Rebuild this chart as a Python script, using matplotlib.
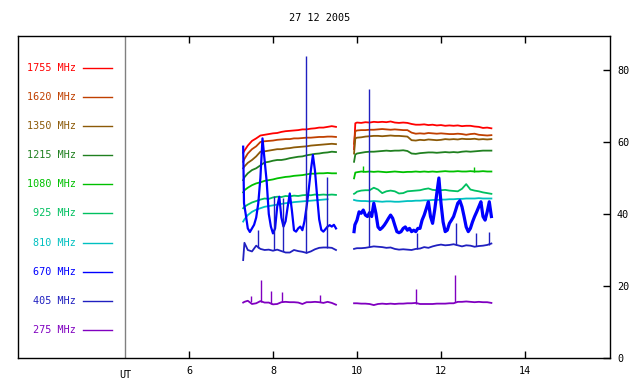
import numpy as np
import matplotlib
matplotlib.use("Agg")
import matplotlib.pyplot as plt

TITLE = "27 12 2005"
FREQS = [1755, 1620, 1350, 1215, 1080, 925, 810, 670, 405, 275]
COLORS = ["#ff0000", "#c04000", "#8c5a08", "#208020", "#00c000",
          "#00c060", "#00c0c0", "#0000ff", "#2020c0", "#8000c0"]

# time axis (UT hours) for most channels
T_LEFT = [7.29, 7.32, 7.4, 7.5, 7.6, 7.7, 7.8, 7.9, 8.0, 8.1, 8.2, 8.3, 8.4, 8.5,
          8.6, 8.7, 8.8, 8.9, 9.0, 9.1, 9.2, 9.3, 9.4, 9.5]
T_RIGHT = [9.93, 9.96, 10.0, 10.1, 10.2, 10.3, 10.4, 10.5, 10.6, 10.7, 10.8, 10.9,
           11.0, 11.1, 11.2, 11.3, 11.4, 11.5, 11.6, 11.7, 11.8, 11.9, 12.0, 12.1,
           12.2, 12.3, 12.4, 12.5, 12.6, 12.7, 12.8, 12.9, 13.0, 13.1, 13.2]

F1755_L = [57.0, 57.6, 59.0, 60.3, 61.0, 61.8, 62.0, 62.2, 62.4, 62.5, 62.8, 63.0, 63.1,
           63.2, 63.3, 63.5, 63.5, 63.7, 63.8, 64.0, 64.0, 64.2, 64.4, 64.2]
F1755_R = [58.0, 65.2, 65.4, 65.3, 65.5, 65.4, 65.6, 65.5, 65.6, 65.5, 65.7, 65.4, 65.3,
           65.4, 65.3, 65.0, 64.8, 64.8, 64.9, 64.7, 64.8, 64.6, 64.7, 64.5, 64.6, 64.5,
           64.6, 64.4, 64.5, 64.5, 64.3, 64.2, 63.9, 64.0, 63.8]
F1620_L = [54.5, 55.3, 56.8, 58.0, 58.8, 60.0, 60.2, 60.3, 60.4, 60.6, 60.7, 60.8, 60.8,
           61.0, 61.0, 61.1, 61.2, 61.2, 61.3, 61.4, 61.4, 61.5, 61.5, 61.4]
F1620_R = [59.5, 63.0, 63.2, 63.3, 63.3, 63.4, 63.4, 63.5, 63.6, 63.5, 63.4, 63.5, 63.4,
           63.3, 63.3, 62.6, 62.3, 62.4, 62.3, 62.5, 62.4, 62.3, 62.4, 62.3, 62.2, 62.2,
           62.3, 62.2, 62.0, 62.2, 62.3, 62.0, 61.9, 61.8, 61.9]
F1350_L = [52.7, 53.2, 54.2, 55.0, 56.0, 57.3, 57.4, 57.6, 57.8, 58.0, 58.0, 58.2, 58.3,
           58.5, 58.6, 58.7, 58.8, 59.0, 59.1, 59.2, 59.3, 59.4, 59.5, 59.4]
F1350_R = [56.8, 61.0, 61.2, 61.3, 61.5, 61.6, 61.7, 61.7, 61.6, 61.7, 61.8, 61.7, 61.7,
           61.6, 61.5, 60.5, 60.4, 60.6, 60.5, 60.7, 60.6, 60.5, 60.6, 60.8, 60.7, 60.8,
           60.7, 60.9, 60.8, 60.8, 60.9, 60.7, 60.8, 60.7, 60.8]
F1215_L = [49.4, 50.2, 51.3, 52.2, 52.7, 53.5, 54.3, 54.5, 54.8, 55.0, 55.0, 55.2, 55.5,
           55.7, 55.9, 56.0, 56.3, 56.5, 56.7, 56.8, 57.0, 57.1, 57.3, 57.2]
F1215_R = [54.5, 56.5, 56.8, 57.0, 57.2, 57.3, 57.3, 57.4, 57.5, 57.6, 57.5, 57.6, 57.6,
           57.7, 57.5, 56.8, 56.7, 56.9, 57.0, 57.1, 57.1, 57.0, 57.1, 57.2, 57.1, 57.2,
           57.1, 57.3, 57.4, 57.3, 57.4, 57.5, 57.6, 57.6, 57.6]
F1080_L = [46.0, 46.6, 47.3, 48.0, 48.5, 48.8, 49.2, 49.4, 49.6, 49.9, 50.1, 50.3, 50.4,
           50.6, 50.7, 50.8, 51.0, 51.2, 51.2, 51.3, 51.3, 51.4, 51.3, 51.3]
F1080_R = [49.9, 51.5, 51.6, 51.8, 51.7, 51.8, 51.7, 51.8, 51.7, 51.6, 51.7, 51.8, 51.7,
           51.6, 51.7, 51.7, 51.8, 51.7, 51.8, 51.7, 51.8, 51.7, 51.8, 51.9, 51.8, 51.8,
           51.9, 51.8, 51.8, 51.9, 51.8, 51.8, 51.9, 51.8, 51.8]
F925_L = [41.6, 42.0, 42.6, 43.2, 43.6, 44.0, 44.3, 44.2, 44.6, 44.8, 44.7, 45.0, 44.9,
          45.1, 45.0, 45.2, 45.3, 45.2, 45.4, 45.3, 45.4, 45.3, 45.4, 45.3]
F925_R = [45.6, 45.8, 46.2, 46.5, 46.6, 46.6, 47.3, 46.8, 45.8, 46.3, 46.5, 46.3, 45.7,
          45.8, 46.3, 46.4, 46.5, 46.6, 46.9, 47.1, 46.7, 46.6, 46.6, 46.7, 46.5, 46.4,
          46.3, 47.0, 48.3, 46.8, 46.5, 46.3, 46.0, 45.8, 45.6]
F810_L = [37.9, 38.5, 39.7, 40.6, 41.2, 41.6, 42.0, 42.2, 42.4, 42.6, 42.8, 43.0, 43.1,
          43.3, 43.4, 43.5, 43.6, 43.7, 43.8, 43.9, 44.0, 44.1, np.nan, np.nan]
F810_R = [43.9, 43.8, 43.7, 43.6, 43.6, 43.5, 43.6, 43.5, 43.4, 43.5, 43.5, 43.4, 43.4,
          43.5, 43.6, 43.6, 43.7, 43.7, 43.8, 43.8, 43.9, 43.9, 44.0, 44.0, 44.1, 44.1,
          44.2, 44.2, 44.3, 44.3, 44.3, 44.4, 44.3, 44.3, 44.3]
F405_L = [27.2, 32.0, 30.0, 29.6, 31.2, 30.3, 30.0, 30.1, 29.8, 30.1, 29.7, 29.3, 29.3,
          30.0, 29.7, 29.5, 29.2, 29.6, 30.2, 30.6, 30.7, 30.7, 30.6, 30.0]
F405_R = [30.3, 30.4, 30.5, 30.5, 30.6, 30.8, 31.0, 30.9, 30.8, 30.6, 30.7, 30.3, 30.1,
          30.2, 30.1, 30.0, 30.3, 30.4, 30.8, 30.6, 31.0, 31.3, 31.5, 31.3, 31.4, 31.6,
          31.3, 31.0, 31.3, 31.2, 30.9, 31.1, 31.2, 31.4, 31.8]
F275_L = [15.4, 15.6, 15.9, 15.0, 15.2, 15.8, 15.4, 15.4, 14.9, 15.0, 15.5, 15.6, 15.5,
          15.5, 15.4, 15.0, 15.5, 15.5, 15.6, 15.5, 15.3, 15.6, 15.3, 14.8]
F275_R = [15.2, 15.2, 15.2, 15.1, 15.1, 15.0, 14.7, 15.0, 15.1, 15.0, 15.1, 15.0, 15.1,
          15.1, 15.2, 15.2, 15.3, 15.0, 15.0, 15.0, 15.0, 15.1, 15.1, 15.1, 15.2, 15.2,
          15.6, 15.6, 15.7, 15.6, 15.5, 15.6, 15.5, 15.5, 15.3]

# 670 MHz is sampled more finely
T670_L = [7.29, 7.31, 7.35, 7.40, 7.45, 7.50, 7.55, 7.60, 7.65, 7.70, 7.75, 7.80, 7.85,
          7.90, 7.95, 8.00, 8.05, 8.10, 8.15, 8.20, 8.25, 8.30, 8.35, 8.40, 8.45, 8.50,
          8.55, 8.60, 8.65, 8.70, 8.75, 8.80, 8.85, 8.90, 8.95, 9.00, 9.05, 9.10, 9.15,
          9.20, 9.25, 9.30, 9.35, 9.40, 9.45, 9.50]
F670_L = [58.7, 43.0, 40.0, 36.0, 35.0, 36.0, 37.0, 39.0, 43.0, 50.0, 61.0, 55.0, 49.0,
          40.0, 36.5, 34.6, 36.0, 42.0, 44.8, 39.0, 36.5, 38.0, 42.0, 45.7, 41.0, 35.5,
          35.1, 36.0, 36.5, 35.5, 38.0, 42.0, 46.7, 52.0, 56.4, 52.0, 45.0, 38.5, 35.6,
          35.1, 35.8, 36.5, 36.9, 36.5, 37.0, 36.0]
T670_R = [9.93, 9.95, 10.00, 10.05, 10.10, 10.15, 10.20, 10.25, 10.30, 10.35, 10.40,
          10.45, 10.50, 10.55, 10.60, 10.65, 10.70, 10.75, 10.80, 10.85, 10.90, 10.95,
          11.00, 11.05, 11.10, 11.15, 11.20, 11.25, 11.30, 11.35, 11.40, 11.45, 11.50,
          11.55, 11.60, 11.65, 11.70, 11.75, 11.80, 11.85, 11.90, 11.95, 12.00, 12.05,
          12.10, 12.15, 12.20, 12.25, 12.30, 12.35, 12.40, 12.45, 12.50, 12.55, 12.60,
          12.65, 12.70, 12.75, 12.80, 12.85, 12.90, 12.95, 13.00, 13.05, 13.10, 13.15, 13.20]
F670_R = [35.1, 37.0, 38.3, 40.6, 40.2, 41.1, 39.7, 39.3, 40.4, 39.3, 43.0, 40.2, 36.4,
          35.7, 36.2, 36.9, 37.8, 38.8, 39.7, 38.8, 36.9, 35.1, 34.8, 35.1, 36.0, 36.4,
          35.5, 36.0, 35.1, 35.5, 35.1, 36.0, 36.0, 38.3, 39.7, 41.5, 43.4, 39.3, 37.4,
          41.1, 45.7, 50.0, 43.0, 37.8, 35.1, 35.5, 37.4, 38.3, 39.3, 41.1, 43.0, 43.7,
          42.0, 39.3, 36.4, 35.1, 36.0, 37.8, 39.3, 40.6, 42.0, 43.4, 39.3, 38.3, 40.6,
          43.4, 39.3]

# isolated spikes (channel, time, base, peak)
SPIKE_FREQ = [405, 405, 405, 405, 405, 405, 405, 405, 405, 405,
              1080, 1080, 275, 275, 275, 275, 275, 275, 275]
SPIKE_T = [7.65, 8.03, 8.24, 8.79, 9.29, 10.29, 11.42, 12.36, 12.83, 13.15,
           10.15, 12.79, 7.47, 7.71, 7.96, 8.22, 9.13, 11.40, 12.34]
SPIKE_BASE = [30.5, 30.0, 29.8, 29.2, 30.6, 30.8, 30.2, 31.5, 31.0, 31.4,
              51.7, 51.8, 15.5, 15.6, 15.0, 15.5, 15.5, 15.1, 15.5]
SPIKE_PEAK = [35.6, 45.0, 44.4, 83.9, 50.4, 74.6, 34.6, 37.4, 34.8, 35.1,
              53.3, 53.0, 17.2, 21.7, 18.6, 18.3, 17.5, 19.1, 23.1]

X_TICKS = [6, 8, 10, 12, 14]
Y_TICKS = [0, 20, 40, 60, 80]
UT_POS = 4.476

SERIES = {
    1755: (F1755_L, F1755_R), 1620: (F1620_L, F1620_R), 1350: (F1350_L, F1350_R),
    1215: (F1215_L, F1215_R), 1080: (F1080_L, F1080_R), 925: (F925_L, F925_R),
    810: (F810_L, F810_R), 405: (F405_L, F405_R), 275: (F275_L, F275_R),
}

FONT = "DejaVu Sans Mono"
FS = 7.3

fig = plt.figure(figsize=(6.4, 3.84), dpi=100)
ax = fig.add_axes([18 / 640, 1 - 358 / 384, 592 / 640, 322 / 384])
ax.set_xlim(1.929, 16.024)
ax.set_ylim(0, 89.44)

color_of = dict(zip(FREQS, COLORS))
for f in FREQS:
    c = color_of[f]
    if f == 670:
        ax.plot(T670_L, F670_L, color=c, lw=1.6, zorder=3)
        ax.plot(T670_R, F670_R, color=c, lw=2.3, zorder=3)
    else:
        left, right = SERIES[f]
        ax.plot(T_LEFT, left, color=c, lw=1.3, zorder=2)
        ax.plot(T_RIGHT, right, color=c, lw=1.3, zorder=2)

for f, t, b, p in zip(SPIKE_FREQ, SPIKE_T, SPIKE_BASE, SPIKE_PEAK):
    ax.vlines(t, b, p, color=color_of[f], lw=1.0, zorder=4)

ax.axvline(UT_POS, color="#808080", lw=1.0)

for sp in ax.spines.values():
    sp.set_linewidth(1.0)
    sp.set_color("black")

ax.set_xticks(X_TICKS)
ax.set_xticklabels([str(v) for v in X_TICKS])
ax.set_yticks(Y_TICKS)
ax.set_yticklabels([str(v) for v in Y_TICKS])
ax.tick_params(axis="x", direction="in", length=5, width=1, top=True, bottom=True,
               labelsize=FS, pad=6)
ax.tick_params(axis="y", direction="in", length=5, width=1, left=False, right=True,
               labelleft=False, labelright=True, labelsize=FS, pad=5)
for lab in ax.get_xticklabels() + ax.get_yticklabels():
    lab.set_fontfamily(FONT)

ax.text(UT_POS, -0.036, "UT", transform=ax.get_xaxis_transform(), ha="center",
        va="top", fontsize=FS, family=FONT)

fig.text(0.5, 1 - 18 / 384, TITLE, ha="center", va="center", fontsize=FS, family=FONT)

# legend
for i, (f, c) in enumerate(zip(FREQS, COLORS)):
    ypix = 67.7 + i * 29.15
    yf = (358 - ypix) / 322
    ax.text((76 - 18) / 592, yf, f"{f} MHz", transform=ax.transAxes, ha="right",
            va="center", color=c, fontsize=FS, family=FONT)
    ax.plot([(83 - 18) / 592, (112 - 18) / 592], [yf, yf], transform=ax.transAxes,
            color=c, lw=1.0)

fig.savefig("out.png", dpi=100)
